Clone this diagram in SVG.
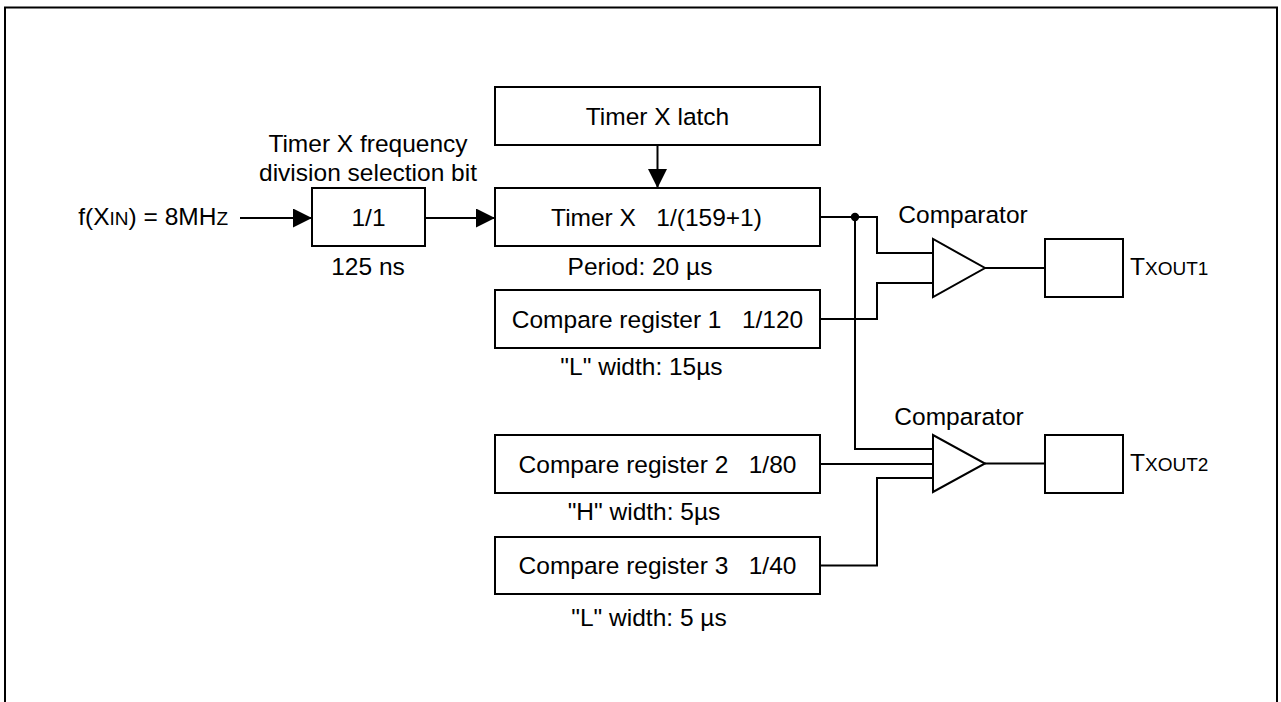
<svg xmlns="http://www.w3.org/2000/svg" width="1281" height="702" viewBox="0 0 1281 702">
<defs>
<style>
.box{fill:#fff;stroke:#000;stroke-width:2}
.ln{fill:none;stroke:#000;stroke-width:2}
text{font-family:"Liberation Sans",Arial,sans-serif;font-size:24.5px;fill:#000}
.c{text-anchor:middle}
.sm{font-size:19px}
</style>
<marker id="ah" markerUnits="userSpaceOnUse" markerWidth="20" markerHeight="20" refX="19" refY="9.5" orient="auto">
<path d="M0,0 L19,9.5 L0,19 Z" fill="#000"/>
</marker>
</defs>
<rect width="1281" height="702" fill="#fff"/>
<path class="ln" d="M5,702 V7.5 H1277 V702" stroke-width="2.2"/>

<g id="connectors">
<path class="ln" d="M240,218 H312" marker-end="url(#ah)"/>
<path class="ln" d="M425,218 H495" marker-end="url(#ah)"/>
<path class="ln" d="M657.5,145 V188" marker-end="url(#ah)"/>
<path class="ln" d="M820,217 H877 V253 H933"/>
<circle cx="855" cy="217" r="4.2" fill="#000"/>
<path class="ln" d="M855,217 V449 H933"/>
<path class="ln" d="M820,319 H877 V283 H933"/>
<path class="ln" d="M985,268 H1045"/>
<path class="ln" d="M820,464 H933"/>
<path class="ln" d="M820,565.5 H877 V478 H933"/>
<path class="ln" d="M985,463.5 H1045"/>
</g>

<g id="fin">
<text x="228" y="225" text-anchor="end">f(X<tspan class="sm">IN</tspan>) = 8MH<tspan class="sm">Z</tspan></text>
</g>

<g id="divider">
<text class="c" x="368" y="152">Timer X frequency</text>
<text class="c" x="368" y="180.5">division selection bit</text>
<rect class="box" x="312" y="188" width="113" height="58"/>
<text class="c" x="368.5" y="225.5">1/1</text>
<text class="c" x="368" y="275">125 ns</text>
</g>

<g id="latch">
<rect class="box" x="495" y="87" width="325" height="58"/>
<text class="c" x="657.5" y="124.5">Timer X latch</text>
</g>

<g id="timerx">
<rect class="box" x="495" y="188" width="325" height="58"/>
<text class="c" x="656.5" y="225.5" style="white-space:pre">Timer X   1/(159+1)</text>
<text class="c" x="640" y="275">Period: 20 µs</text>
</g>

<g id="cr1">
<rect class="box" x="495" y="290" width="325" height="58"/>
<text class="c" x="657.5" y="327.5" style="white-space:pre">Compare register 1   1/120</text>
<text class="c" x="641.5" y="375">"L" width: 15µs</text>
</g>

<g id="cr2">
<rect class="box" x="495" y="435" width="325" height="58"/>
<text class="c" x="657.5" y="472.5" style="white-space:pre">Compare register 2   1/80</text>
<text class="c" x="644" y="520">"H" width: 5µs</text>
</g>

<g id="cr3">
<rect class="box" x="495" y="537" width="325" height="57"/>
<text class="c" x="657.5" y="574" style="white-space:pre">Compare register 3   1/40</text>
<text class="c" x="649" y="626">"L" width: 5 µs</text>
</g>

<g id="comp1">
<polygon class="box" points="933,239 933,297 985,268"/>
<text class="c" x="963" y="223">Comparator</text>
</g>

<g id="comp2">
<polygon class="box" points="933,435 933,492 985,463.5"/>
<text class="c" x="959" y="425">Comparator</text>
</g>

<g id="out1">
<rect class="box" x="1045" y="239" width="78" height="58"/>
<text x="1130" y="275">T<tspan class="sm">XOUT1</tspan></text>
</g>

<g id="out2">
<rect class="box" x="1045" y="435" width="78" height="58"/>
<text x="1130" y="471">T<tspan class="sm">XOUT2</tspan></text>
</g>
</svg>
